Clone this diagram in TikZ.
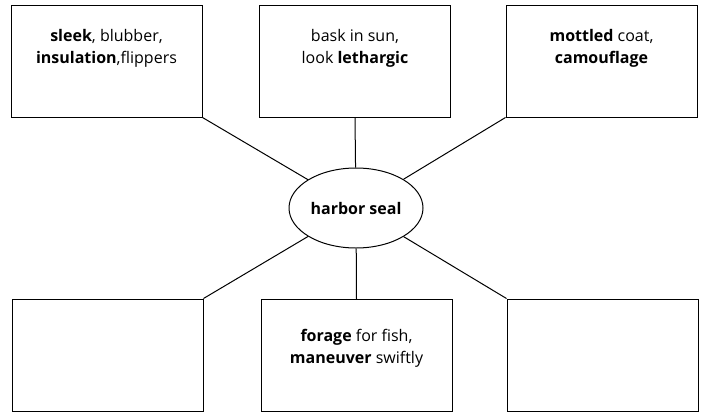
\documentclass[tikz,border=0pt]{standalone}
\usepackage{fontspec}
\setmainfont{Open Sans}
\usetikzlibrary{shapes.geometric,positioning}

\begin{document}
\begin{tikzpicture}[x=1pt,y=-1pt,
    box/.style={draw, line width=1pt, minimum width=191pt, minimum height=112pt, inner sep=0pt},
    boxtext/.style={align=center, inner sep=0pt, font=\fontsize{16}{22}\selectfont},
    hub/.style={draw, ellipse, line width=1pt, minimum width=134pt, minimum height=80pt, inner sep=0pt, font=\bfseries\fontsize{16}{18}\selectfont},
    spoke/.style={line width=1pt}]
  % 画布大小
  \useasboundingbox (0,0) rectangle (705,413);

  % 中心椭圆
  \node[hub] (seal) at (356,208) {harbor seal};

  % 上排三个方框
  \node[box] (topL) at (106.5,61) {};
  \node[box] (topM) at (355,61) {};
  \node[box] (topR) at (601.5,61) {};

  % 下排三个方框
  \node[box] (botL) at (107.5,355) {};
  \node[box] (botM) at (356.5,355.5) {};
  \node[box] (botR) at (602.5,355) {};

  % 方框中的文字
  \node[boxtext, below=25pt of topL.north] (topLtext) {\textbf{sleek}, blubber,\\\textbf{insulation},flippers};
  \node[boxtext, below=25pt of topM.north] (topMtext) {bask in sun,\\look \textbf{lethargic}};
  \node[boxtext, below=25pt of topR.north] (topRtext) {\textbf{mottled} coat,\\\textbf{camouflage}};
  \node[boxtext, below=30pt of botM.north] (botMtext) {\textbf{forage} for fish,\\\textbf{maneuver} swiftly};

  % 连线
  \draw[spoke] (topL.south east) -- (seal);
  \draw[spoke] (topM.south) -- (seal);
  \draw[spoke] (topR.south west) -- (seal);
  \draw[spoke] (botL.north east) -- (seal);
  \draw[spoke] (botM.north) -- (seal);
  \draw[spoke] (botR.north west) -- (seal);
\end{tikzpicture}
\end{document}
